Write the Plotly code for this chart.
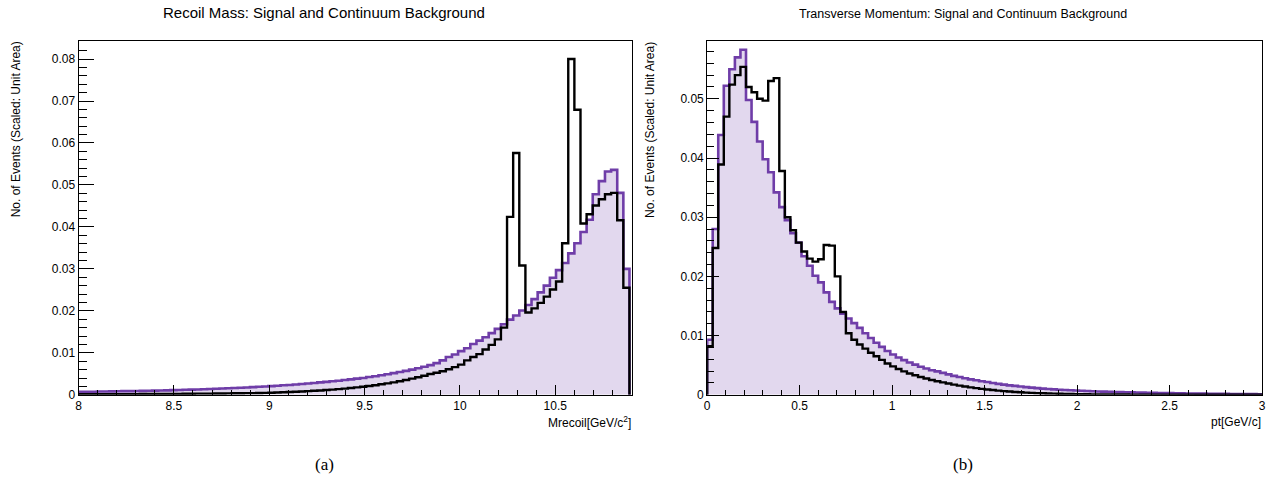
import numpy as np
import plotly.graph_objects as go

# ---------------- data (bin contents, in units of 1e-3, unit-area normalised) ----------------
# Recoil mass: 90 bins from 8.0 to 10.889 GeV/c^2
mrecoil_edges = np.linspace(8.0, 10.889, 91)
mrecoil_continuum = [
    0.71, 0.74, 0.74, 0.78, 0.79, 0.82, 0.83, 0.87, 0.88, 0.92,
    0.94, 0.98, 1.00, 1.04, 1.06, 1.11, 1.14, 1.19, 1.24, 1.28,
    1.33, 1.39, 1.43, 1.50, 1.55, 1.62, 1.68, 1.75, 1.83, 1.90,
    1.98, 2.07, 2.15, 2.26, 2.35, 2.47, 2.57, 2.70, 2.81, 2.95,
    3.07, 3.22, 3.36, 3.52, 3.67, 3.85, 4.02, 4.23, 4.43, 4.67,
    4.90, 5.16, 5.42, 5.71, 6.00, 6.34, 6.68, 7.07, 7.55,
    8.2, 9.0, 9.6, 10.4, 11.1, 12.1, 12.9, 13.7, 14.7, 15.7,
    16.8, 17.9, 18.9, 20.1, 21.4, 22.8, 24.4, 26.0, 27.9, 29.7,
    31.4, 33.7, 36.1, 38.8, 41.7, 47.8, 50.9, 53.2, 53.6, 48.1,
    30.0,
]
mrecoil_signal = [
    0.12, 0.12, 0.13, 0.13, 0.14, 0.14, 0.15, 0.16, 0.16, 0.17,
    0.18, 0.19, 0.19, 0.20, 0.21, 0.22, 0.23, 0.24, 0.25, 0.27,
    0.28, 0.29, 0.31, 0.32, 0.34, 0.36, 0.37, 0.39, 0.41, 0.43,
    0.46, 0.50, 0.55, 0.60, 0.66, 0.72, 0.79, 0.87, 0.95, 1.04,
    1.14, 1.24, 1.36, 1.48, 1.62, 1.77, 1.93, 2.10, 2.29, 2.50,
    2.72, 2.97, 3.24, 3.53, 3.85, 4.19, 4.55, 4.95, 5.25,
    5.6, 6.1, 6.6, 7.2, 8.2, 9.0, 9.7, 10.8, 11.9, 13.2,
    16.0, 42.4, 57.6, 30.8, 19.6, 20.6, 21.9, 23.4, 25.1, 27.0,
    36.1, 80.0, 67.9, 40.8, 43.0, 45.1, 46.6, 47.8, 48.1, 41.6,
    25.5,
]

# Transverse momentum: 100 bins from 0 to 3 GeV/c
pt_edges = np.linspace(0.0, 3.0, 101)
pt_continuum = [
    9.3, 28.0, 43.9, 52.2, 55.0, 57.0, 58.3, 49.8, 46.1, 42.8,
    39.8, 37.6, 34.2, 31.7, 29.5, 27.3, 25.7, 23.4, 21.8, 20.1,
    19.0, 17.3, 15.7, 14.6, 13.7, 12.9, 12.1, 11.3, 10.4, 9.6,
    8.8, 8.1, 7.4, 6.8, 6.3, 5.85, 5.45, 5.1, 4.75, 4.45,
    4.15, 3.95, 3.7, 3.45, 3.2, 3.0, 2.8, 2.6, 2.45, 2.3,
    2.15, 2.0, 1.85, 1.72, 1.6, 1.5, 1.4, 1.3, 1.21, 1.13,
    1.05, 0.98, 0.92, 0.86, 0.81, 0.76, 0.72, 0.68, 0.64, 0.60,
    0.57, 0.54, 0.51, 0.48, 0.455, 0.43, 0.41, 0.385, 0.365, 0.345,
    0.325, 0.305, 0.29, 0.275, 0.26, 0.245, 0.23, 0.215, 0.20, 0.19,
    0.18, 0.17, 0.16, 0.15, 0.14, 0.13, 0.125, 0.115, 0.11, 0.10,
]
pt_signal = [
    8.2, 24.8, 38.9, 47.0, 52.4, 54.0, 55.4, 52.0, 51.1, 50.0,
    49.7, 53.0, 53.5, 37.8, 30.0, 27.8, 25.7, 24.2, 23.0, 22.5,
    22.9, 25.3, 25.2, 20.0, 14.0, 10.4, 9.3, 8.5, 7.8, 7.1,
    6.5, 5.9, 5.3, 4.8, 4.35, 3.95, 3.6, 3.3, 3.0, 2.75,
    2.5, 2.3, 2.1, 1.9, 1.72, 1.55, 1.4, 1.25, 1.12, 1.0,
    0.9, 0.8, 0.7, 0.62, 0.55, 0.48, 0.42, 0.37, 0.32, 0.28,
    0.25, 0.22, 0.19, 0.17, 0.15, 0.13, 0.11, 0.10, 0.09, 0.08,
    0.07, 0.06, 0.055, 0.05, 0.045, 0.04, 0.035, 0.03, 0.03, 0.025,
    0.02, 0.02, 0.02, 0.015, 0.015, 0.015, 0.01, 0.01, 0.01, 0.01,
    0.01, 0.005, 0.005, 0.005, 0.005, 0.005, 0.005, 0.0, 0.005, 0.0,
]

SCALE = 1e-3
PURPLE = "#6f3da8"
W, H = 1287, 492
SANS = "Liberation Sans, Arial, Helvetica, sans-serif"


def step_outline(edges, contents):
    """Histogram outline as (x, y) vertices for an 'hv' shaped line."""
    vals = np.asarray(contents, dtype=float) * SCALE
    x = np.concatenate([[edges[0]], edges, [edges[-1]]])
    y = np.concatenate([[0.0], vals, [vals[-1]], [0.0]])
    return x, y


fig = go.Figure()

panels = [
    ("x", "y", mrecoil_edges, mrecoil_continuum, mrecoil_signal),
    ("x2", "y2", pt_edges, pt_continuum, pt_signal),
]
for xa, ya, edges, cont, sig in panels:
    cx, cy = step_outline(edges, cont)
    fig.add_trace(go.Scatter(
        x=cx, y=cy, xaxis=xa, yaxis=ya, mode="lines",
        line=dict(color=PURPLE, width=2.6, shape="hv"),
        fill="tozeroy", fillcolor="rgba(0,0,0,0)",
        fillpattern=dict(shape=".", fgcolor=PURPLE, fgopacity=0.45,
                         bgcolor="rgba(255,255,255,0)", size=2, solidity=0.5),
        hoverinfo="skip", showlegend=False,
    ))
    sx, sy = step_outline(edges, sig)
    fig.add_trace(go.Scatter(
        x=sx, y=sy, xaxis=xa, yaxis=ya, mode="lines",
        line=dict(color="black", width=2.4, shape="hv"),
        hoverinfo="skip", showlegend=False,
    ))


def px_to_x(p):
    return p / W


def px_to_y(p):
    return 1 - p / H


common_axis = dict(
    showline=True, linecolor="black", linewidth=1, mirror=True,
    showgrid=False, zeroline=False, ticks="inside", tickcolor="black",
    tickwidth=1, tickfont=dict(family=SANS, size=12, color="black"),
)

y_dom = [px_to_y(400.5), px_to_y(42)]

fig.update_layout(
    width=W, height=H,
    margin=dict(l=0, r=0, t=0, b=0),
    paper_bgcolor="white", plot_bgcolor="white",
    xaxis=dict(common_axis, domain=[px_to_x(76), px_to_x(632)], range=[8.0, 10.9],
               tick0=8, dtick=0.5, ticklen=10,
               minor=dict(ticks="inside", ticklen=5, tick0=8, dtick=0.1,
                          tickcolor="black", showgrid=False)),
    yaxis=dict(common_axis, domain=y_dom, range=[0, 0.0842],
               tick0=0, dtick=0.01, ticklen=15,
               minor=dict(ticks="inside", ticklen=8, tick0=0, dtick=0.002,
                          tickcolor="black", showgrid=False)),
    xaxis2=dict(common_axis, domain=[px_to_x(708), px_to_x(1266)], range=[0, 3.0],
                anchor="y2", tick0=0, dtick=0.5, ticklen=10,
                minor=dict(ticks="inside", ticklen=5, tick0=0, dtick=0.1,
                           tickcolor="black", showgrid=False)),
    yaxis2=dict(common_axis, domain=y_dom, range=[0, 0.0597], anchor="x2",
                tick0=0, dtick=0.01, ticklen=12,
                minor=dict(ticks="inside", ticklen=7, tick0=0, dtick=0.002,
                           tickcolor="black", showgrid=False)),
)

annotations = [
    dict(text="Recoil Mass: Signal and Continuum Background", x=px_to_x(323), y=px_to_y(13),
         xanchor="center", yanchor="middle", font=dict(family=SANS, size=15, color="black")),
    dict(text="Transverse Momentum: Signal and Continuum Background", x=px_to_x(965), y=px_to_y(14),
         xanchor="center", yanchor="middle", font=dict(family=SANS, size=12.5, color="black")),
    dict(text="No. of Events (Scaled: Unit Area)", x=px_to_x(14), y=px_to_y(40),
         xanchor="center", yanchor="top", textangle=-90,
         font=dict(family=SANS, size=12, color="black")),
    dict(text="No. of Events (Scaled: Unit Area)", x=px_to_x(651), y=px_to_y(40),
         xanchor="center", yanchor="top", textangle=-90,
         font=dict(family=SANS, size=12, color="black")),
    dict(text="Mrecoil[GeV/c<sup>2</sup>]", x=px_to_x(633), y=px_to_y(428),
         xanchor="right", yanchor="middle", font=dict(family=SANS, size=12, color="black")),
    dict(text="pt[GeV/c]", x=px_to_x(1267), y=px_to_y(428),
         xanchor="right", yanchor="middle", font=dict(family=SANS, size=12, color="black")),
    dict(text="(a)", x=px_to_x(323), y=px_to_y(471),
         xanchor="center", yanchor="middle",
         font=dict(family="Liberation Serif, DejaVu Serif, serif", size=17, color="black")),
    dict(text="(b)", x=px_to_x(965), y=px_to_y(471),
         xanchor="center", yanchor="middle",
         font=dict(family="Liberation Serif, DejaVu Serif, serif", size=17, color="black")),
]
for a in annotations:
    a.update(xref="paper", yref="paper", showarrow=False)
fig.update_layout(annotations=annotations)

fig.write_html("out.html")
